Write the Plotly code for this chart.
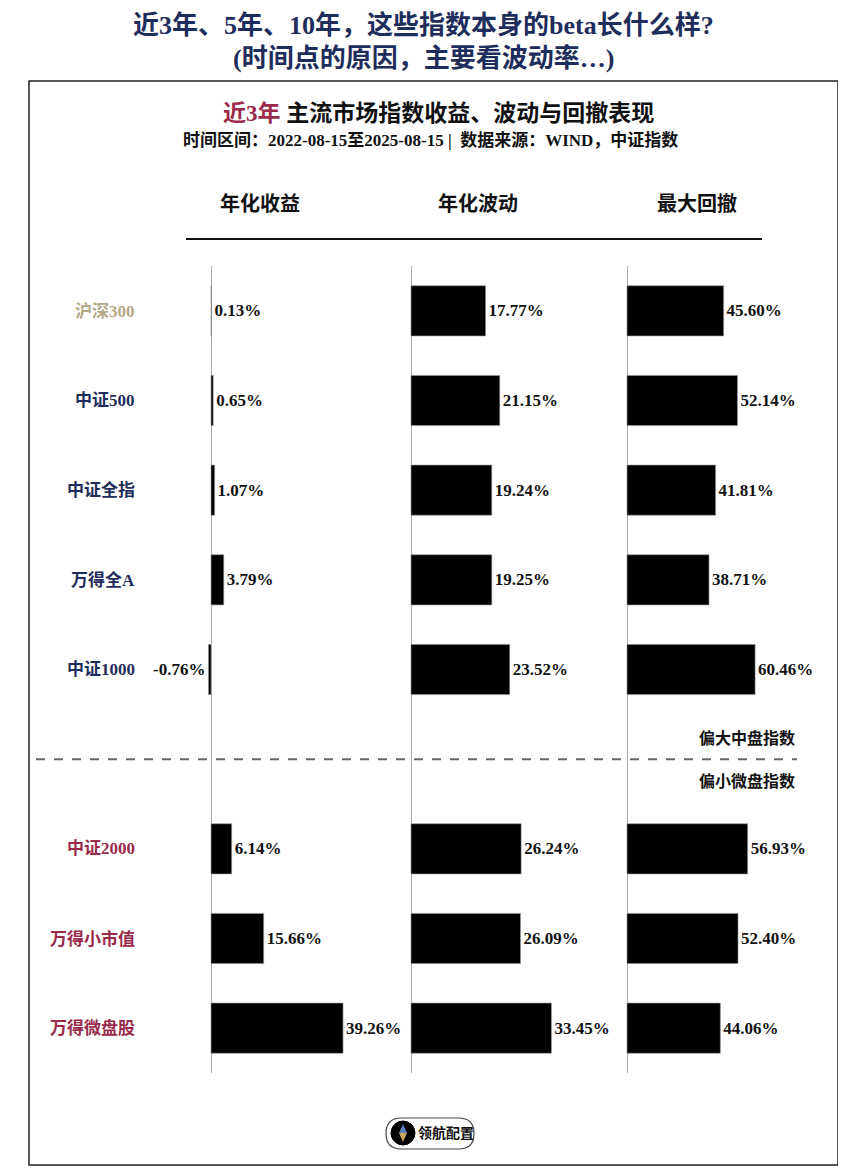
import plotly.graph_objects as go

# page is rendered with an 8px body margin: map reference page pixels to figure space
OFF = 8
W, H = 846 - 2 * OFF, 1176 - 2 * OFF

def px(x):
    return (x - OFF) / W

def py(y):
    return 1 - (y - OFF) / H

# ---------------- data ----------------
large_names = ["沪深300", "中证500", "中证全指", "万得全A", "中证1000"]
small_names = ["中证2000", "万得小市值", "万得微盘股"]
gap_key = "gap"
categories = large_names + [gap_key] + small_names

ret_large = [0.13, 0.65, 1.07, 3.79, -0.76]
ret_small = [6.14, 15.66, 39.26]
vol_large = [17.77, 21.15, 19.24, 19.25, 23.52]
vol_small = [26.24, 26.09, 33.45]
dd_large = [45.60, 52.14, 41.81, 38.71, 60.46]
dd_small = [56.93, 52.40, 44.06]

col_titles = ["年化收益", "年化波动", "最大回撤"]
name_colors = ["#b5a886", "#1f2d5c", "#1f2d5c", "#1f2d5c", "#1f2d5c",
               "#9a2a4a", "#9a2a4a", "#9a2a4a"]

NAVY = "#1f2d5c"
CRIMSON = "#9a2a4a"
SERIF = "Liberation Serif, Noto Sans CJK SC, serif"
CJK = "Noto Sans CJK SC, sans-serif"

names = large_names + small_names
series = [ret_large + ret_small, vol_large + vol_small, dd_large + dd_small]

fig = go.Figure()
axes = ["x", "x2", "x3"]
for vals, ax in zip(series, axes):
    fig.add_trace(go.Bar(
        x=vals, y=names, orientation="h", xaxis=ax, yaxis="y",
        marker=dict(color="#000000", line=dict(color="#999999", width=0.6)),
        text=[f"<b>{v:.2f}%</b>" for v in vals],
        textposition="outside", cliponaxis=False, constraintext="none",
        textfont=dict(family=SERIF, size=17, color="#111111"),
        hoverinfo="skip", showlegend=False,
    ))

ytop, ybot = 266, 1073
xcommon = dict(showgrid=False, showticklabels=False, zeroline=True,
               zerolinecolor="#aaaaaa", zerolinewidth=1, showline=False,
               fixedrange=True)
fig.update_layout(
    width=W, height=H,
    margin=dict(l=0, r=0, t=0, b=0),
    paper_bgcolor="white", plot_bgcolor="white",
    bargap=0.44,
    xaxis=dict(domain=[px(205), px(400)], range=[-1.79, 56.2], anchor="y", **xcommon),
    xaxis2=dict(domain=[px(410), px(615)], range=[-0.24, 48.6], anchor="y", **xcommon),
    xaxis3=dict(domain=[px(626), px(830)], range=[-0.47, 95.8], anchor="y", **xcommon),
    yaxis=dict(domain=[py(ybot), py(ytop)], type="category",
               categoryorder="array", categoryarray=categories,
               range=[len(categories) - 0.5, -0.5],
               showticklabels=False, showgrid=False, zeroline=False,
               anchor="x", fixedrange=True),
)

def note(text, x, y, size, color, family, xanchor="center"):
    return dict(text=text, x=px(x), y=py(y), xref="paper", yref="paper",
                xanchor=xanchor, yanchor="middle", showarrow=False,
                font=dict(family=family, size=size, color=color))

ann = []
# main title
ann.append(note("<b>近3年、5年、10年，这些指数本身的beta长什么样?</b>", 423, 25, 26, NAVY, SERIF))
ann.append(note("<b>(时间点的原因，主要看波动率…)</b>", 423, 58, 26, NAVY, SERIF))
# inner title
ann.append(note(f"<b><span style='color:{CRIMSON}'>近3年</span> 主流市场指数收益、波动与回撤表现</b>",
                438, 113, 23, "#111111", SERIF))
ann.append(note("<b>时间区间：2022-08-15至2025-08-15 |  数据来源：WIND，中证指数</b>",
                430, 140, 17, "#111111", SERIF))
# column headers
for t, xc in zip(col_titles, [260, 478, 697]):
    ann.append(note(f"<b>{t}</b>", xc, 202, 20, "#111111", CJK))
# category labels
for n, c in zip(names, name_colors):
    ann.append(dict(text=f"<b>{n}</b>", x=px(137), y=n, xref="paper", yref="y",
                    xanchor="right", yanchor="middle", showarrow=False,
                    font=dict(family=SERIF, size=17, color=c)))
# group notes
ann.append(note("<b>偏大中盘指数</b>", 797, 737, 16, "#111111", CJK, "right"))
ann.append(note("<b>偏小微盘指数</b>", 797, 780, 16, "#111111", CJK, "right"))
# logo text
ann.append(note("<b>领航配置</b>", 416, 1133, 14, "#111111", SERIF, "left"))
fig.update_layout(annotations=ann)

shapes = []
# border box
shapes.append(dict(type="rect", xref="paper", yref="paper",
                   x0=px(29), x1=px(838), y0=py(1165), y1=py(81),
                   line=dict(color="#222222", width=1.5)))
# header underline
shapes.append(dict(type="line", xref="paper", yref="paper",
                   x0=px(186), x1=px(762), y0=py(239), y1=py(239),
                   line=dict(color="#111111", width=2)))
# dashed separator at the gap row
gap_idx = categories.index(gap_key)
shapes.append(dict(type="line", xref="paper", yref="y",
                   x0=px(36), x1=px(797), y0=gap_idx, y1=gap_idx,
                   line=dict(color="#666666", width=2, dash="dash")))
# logo pill
x0, x1, y0, y1, r = 386, 474, 1118, 1149, 15.5
pill = (f"M {px(x0 + r)},{py(y0)} L {px(x1 - r)},{py(y0)} "
        f"Q {px(x1)},{py(y0)} {px(x1)},{py((y0 + y1) / 2)} "
        f"Q {px(x1)},{py(y1)} {px(x1 - r)},{py(y1)} "
        f"L {px(x0 + r)},{py(y1)} "
        f"Q {px(x0)},{py(y1)} {px(x0)},{py((y0 + y1) / 2)} "
        f"Q {px(x0)},{py(y0)} {px(x0 + r)},{py(y0)} Z")
shapes.append(dict(type="path", xref="paper", yref="paper", path=pill,
                   line=dict(color="#444444", width=1.2), fillcolor="white", layer="below"))
shapes.append(dict(type="circle", xref="paper", yref="paper",
                   x0=px(391), x1=px(415), y0=py(1145), y1=py(1121),
                   line=dict(color="#000000", width=1), fillcolor="#000000"))
cx, cy = 403, 1133
shapes.append(dict(type="path", xref="paper", yref="paper",
                   path=f"M {px(cx)},{py(cy - 9)} L {px(cx + 4)},{py(cy)} L {px(cx - 4)},{py(cy)} Z",
                   line=dict(width=0), fillcolor="#5b7fbf"))
shapes.append(dict(type="path", xref="paper", yref="paper",
                   path=f"M {px(cx)},{py(cy + 9)} L {px(cx + 4)},{py(cy)} L {px(cx - 4)},{py(cy)} Z",
                   line=dict(width=0), fillcolor="#c9a45c"))
fig.update_layout(shapes=shapes)

fig.write_html("out.html")
